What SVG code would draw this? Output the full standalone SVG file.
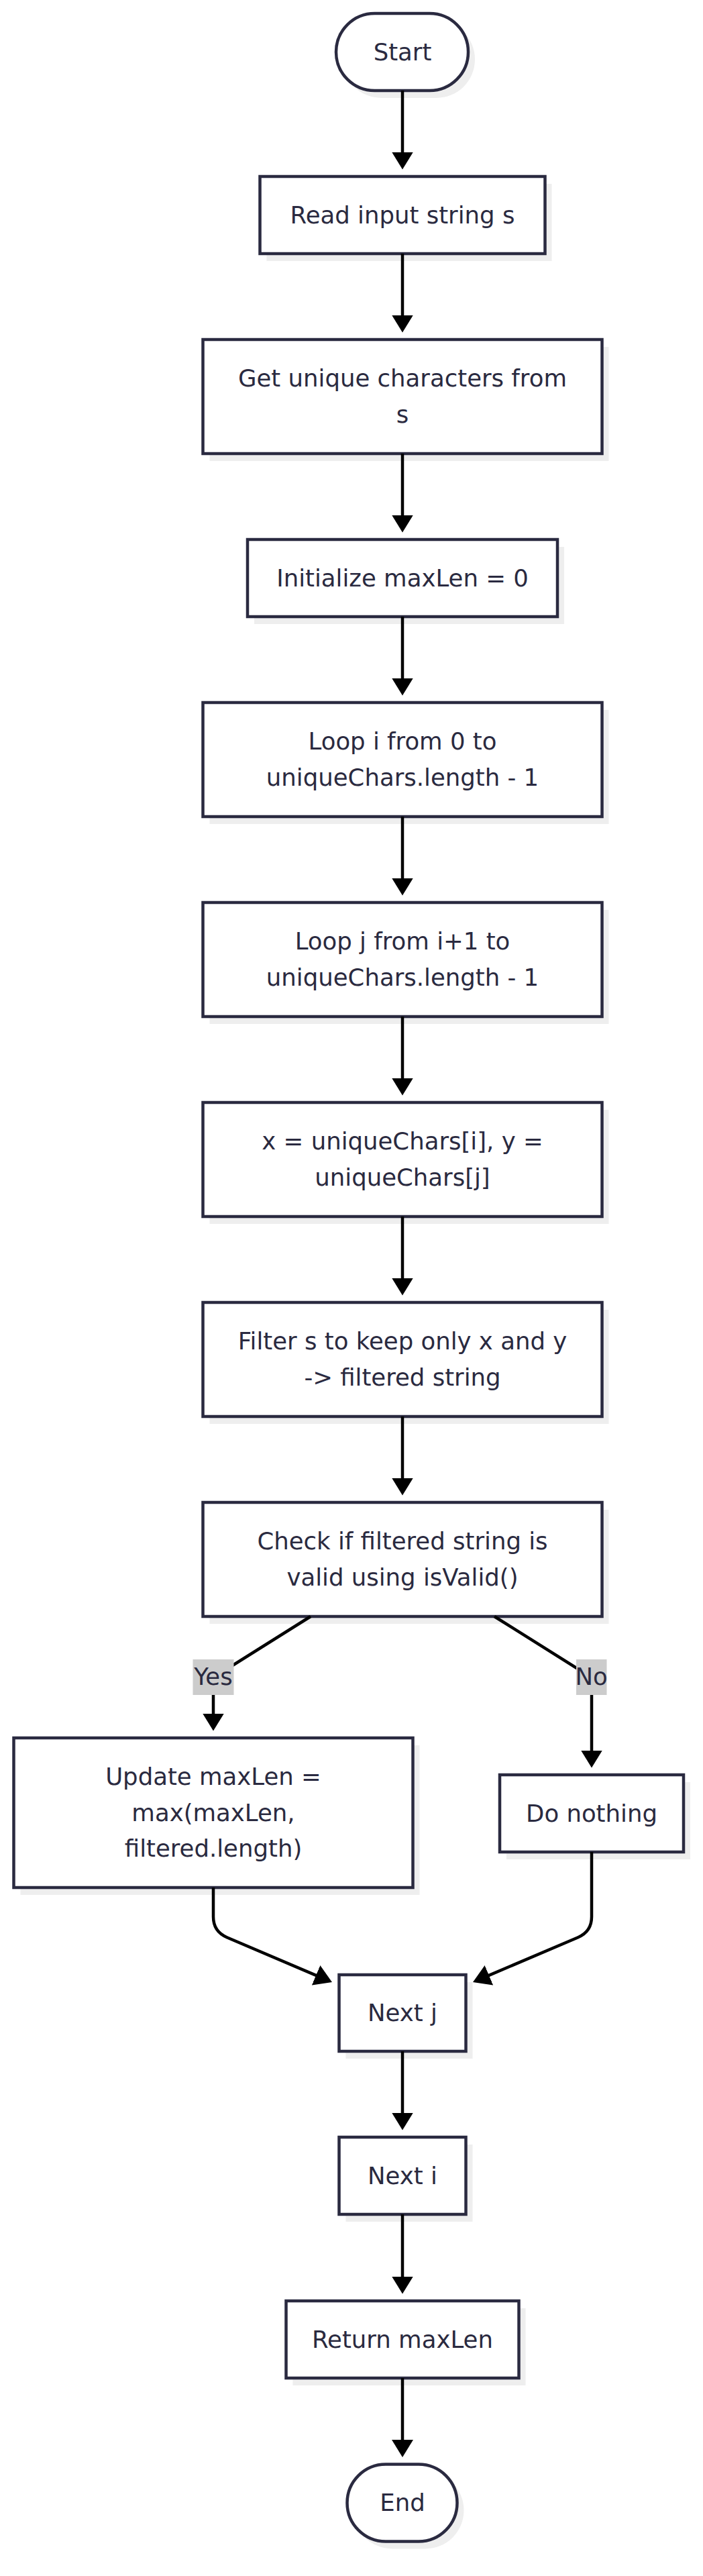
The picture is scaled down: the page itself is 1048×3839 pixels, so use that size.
<svg xmlns="http://www.w3.org/2000/svg" width="1048" height="3839" viewBox="0 0 1048 3839">
<style>
.bg{fill:#ffffff}
.shadow{fill:#eeeeee}
.node{fill:#ffffff;stroke:#2a2a40;stroke-width:4.5}
.t{font-family:"DejaVu Sans","Liberation Sans",sans-serif;font-size:35.5px;fill:#2a2a40;text-anchor:middle}
.edge{fill:none;stroke:#000000;stroke-width:4.5}
.lbl{fill:#cccccc}
</style>
<defs>
<marker id="arrow" markerUnits="userSpaceOnUse" markerWidth="26" markerHeight="32" viewBox="0 0 26 32" refX="16" refY="16" orient="auto">
<path d="M0,0 L26,16 L0,32 Z" fill="#000000"/>
</marker>
</defs>
<rect class="bg" x="0" y="0" width="1048" height="3839"/>

<g id="node-start">
<rect class="shadow" x="511" y="31" width="197" height="115" rx="57.5"/>
<rect class="node" x="501" y="20" width="197" height="115" rx="57.5"/>
<text class="t" x="600" y="89.5">Start</text>
</g>
<g id="node-read">
<rect class="shadow" x="397.5" y="274" width="425" height="115"/>
<rect class="node" x="387.5" y="263" width="425" height="115"/>
<text class="t" x="600" y="332.5">Read input string s</text>
</g>
<g id="node-unique">
<rect class="shadow" x="312.5" y="517" width="595" height="170"/>
<rect class="node" x="302.5" y="506" width="595" height="170"/>
<text class="t" x="600" y="576.25">Get unique characters from</text>
<text class="t" x="600" y="629.75">s</text>
</g>
<g id="node-init">
<rect class="shadow" x="379" y="815" width="462" height="115"/>
<rect class="node" x="369" y="804" width="462" height="115"/>
<text class="t" x="600" y="873.5">Initialize maxLen = 0</text>
</g>
<g id="node-loopi">
<rect class="shadow" x="312.5" y="1058" width="595" height="170"/>
<rect class="node" x="302.5" y="1047" width="595" height="170"/>
<text class="t" x="600" y="1117.25">Loop i from 0 to</text>
<text class="t" x="600" y="1170.75">uniqueChars.length - 1</text>
</g>
<g id="node-loopj">
<rect class="shadow" x="312.5" y="1356" width="595" height="170"/>
<rect class="node" x="302.5" y="1345" width="595" height="170"/>
<text class="t" x="600" y="1415.25">Loop j from i+1 to</text>
<text class="t" x="600" y="1468.75">uniqueChars.length - 1</text>
</g>
<g id="node-xy">
<rect class="shadow" x="312.5" y="1654" width="595" height="170"/>
<rect class="node" x="302.5" y="1643" width="595" height="170"/>
<text class="t" x="600" y="1713.25">x = uniqueChars[i], y =</text>
<text class="t" x="600" y="1766.75">uniqueChars[j]</text>
</g>
<g id="node-filter">
<rect class="shadow" x="312.5" y="1952" width="595" height="170"/>
<rect class="node" x="302.5" y="1941" width="595" height="170"/>
<text class="t" x="600" y="2011.25">Filter s to keep only x and y</text>
<text class="t" x="600" y="2064.75">-&gt; filtered string</text>
</g>
<g id="node-check">
<rect class="shadow" x="312.5" y="2250" width="595" height="170"/>
<rect class="node" x="302.5" y="2239" width="595" height="170"/>
<text class="t" x="600" y="2309.25">Check if filtered string is</text>
<text class="t" x="600" y="2362.75">valid using isValid()</text>
</g>
<g id="node-update">
<rect class="shadow" x="30.5" y="2601" width="595" height="223"/>
<rect class="node" x="20.5" y="2590" width="595" height="223"/>
<text class="t" x="318" y="2660">Update maxLen =</text>
<text class="t" x="318" y="2713.5">max(maxLen,</text>
<text class="t" x="318" y="2767">filtered.length)</text>
</g>
<g id="node-nothing">
<rect class="shadow" x="755" y="2656" width="274" height="115"/>
<rect class="node" x="745" y="2645" width="274" height="115"/>
<text class="t" x="882" y="2714.5">Do nothing</text>
</g>
<g id="node-nextj">
<rect class="shadow" x="515.5" y="2954" width="189" height="114"/>
<rect class="node" x="505.5" y="2943" width="189" height="114"/>
<text class="t" x="600" y="3012">Next j</text>
</g>
<g id="node-nexti">
<rect class="shadow" x="515.5" y="3196" width="189" height="115"/>
<rect class="node" x="505.5" y="3185" width="189" height="115"/>
<text class="t" x="600" y="3254.5">Next i</text>
</g>
<g id="node-return">
<rect class="shadow" x="436.5" y="3440" width="347" height="115"/>
<rect class="node" x="426.5" y="3429" width="347" height="115"/>
<text class="t" x="600" y="3498.5">Return maxLen</text>
</g>
<g id="node-end">
<rect class="shadow" x="527.5" y="3683.5" width="164" height="115" rx="57.5"/>
<rect class="node" x="517.5" y="3672.5" width="164" height="115" rx="57.5"/>
<text class="t" x="600" y="3742">End</text>
</g>

<g id="connectors">
<path class="edge" d="M600,135 V242.5" marker-end="url(#arrow)"/>
<path class="edge" d="M600,378 V485.5" marker-end="url(#arrow)"/>
<path class="edge" d="M600,676 V783.5" marker-end="url(#arrow)"/>
<path class="edge" d="M600,919 V1026.5" marker-end="url(#arrow)"/>
<path class="edge" d="M600,1217 V1324.5" marker-end="url(#arrow)"/>
<path class="edge" d="M600,1515 V1622.5" marker-end="url(#arrow)"/>
<path class="edge" d="M600,1813 V1920.5" marker-end="url(#arrow)"/>
<path class="edge" d="M600,2111 V2218.5" marker-end="url(#arrow)"/>
<path class="edge" d="M463,2409 L318,2500 L318,2569.5" marker-end="url(#arrow)"/>
<path class="edge" d="M737,2409 L882,2500 L882,2624.5" marker-end="url(#arrow)"/>
<path class="edge" d="M318,2813 L318,2856.6 Q318,2878.6 338.2,2887.2 L485.8,2950.1" marker-end="url(#arrow)"/>
<path class="edge" d="M882,2760 L882,2856.6 Q882,2878.6 861.8,2887.2 L714.2,2950.1" marker-end="url(#arrow)"/>
<path class="edge" d="M600,3057 V3164.5" marker-end="url(#arrow)"/>
<path class="edge" d="M600,3300 V3408.5" marker-end="url(#arrow)"/>
<path class="edge" d="M600,3544 V3652" marker-end="url(#arrow)"/>
<g id="label-yes">
<rect class="lbl" x="287.5" y="2473" width="61" height="53"/>
<text class="t" x="318" y="2511">Yes</text>
</g>
<g id="label-no">
<rect class="lbl" x="859" y="2473" width="45.5" height="53"/>
<text class="t" x="881.7" y="2511">No</text>
</g>
</g>
</svg>
